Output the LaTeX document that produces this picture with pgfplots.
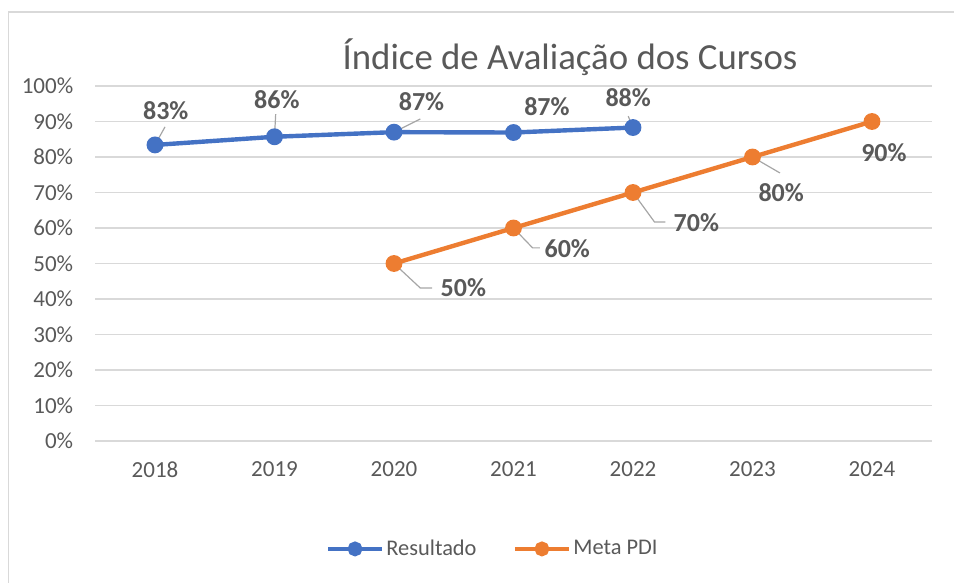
\documentclass[border=0pt]{standalone}
\usepackage{fontspec}
\setmainfont{Carlito}
\usepackage{pgfplots}
\pgfplotsset{compat=1.18}
\definecolor{cblue}{HTML}{4472C4}
\definecolor{corange}{HTML}{ED7D31}
\definecolor{txt}{HTML}{595959}
\definecolor{grd}{HTML}{D9D9D9}
\definecolor{lead}{HTML}{A6A6A6}
\begin{document}
\begin{tikzpicture}
\useasboundingbox (0pt,0pt) rectangle (477pt,-291.5pt);
\draw[grd, line width=0.8pt] (4.25pt,-6pt) rectangle (485pt,-300pt);
\node[txt, font=\fontsize{18.4}{22}\selectfont] at (285pt,-28.5pt) {Índice de Avaliação dos Cursos};
\begin{axis}[
    at={(47.625pt,-220.5pt)}, anchor=south west,
    scale only axis, width=418.25pt, height=177.5pt,
    xmin=-0.5, xmax=6.5, ymin=0, ymax=100,
    xtick={0,1,2,3,4,5,6},
    xticklabels={2018,2019,2020,2021,2022,2023,2024},
    ytick={0,10,...,100},
    yticklabel={\pgfmathprintnumber{\tick}\%},
    /pgf/number format/assume math mode=true,
    tick label style={txt, font=\fontsize{11.5}{14}\selectfont},
    yticklabel style={xshift=-7.5pt},
    xticklabel style={yshift=-7pt},
    axis line style={draw=none},
    major tick length=0pt,
    ymajorgrids, grid style={grd, line width=0.75pt},
    clip=false,
    legend columns=2,
    legend style={at={(0.4755,-0.304)}, anchor=center, draw=none,
      fill=none, text=txt, font=\fontsize{11.2}{14}\selectfont,
      nodes={inner xsep=1.2pt},
      /tikz/every even column/.append style={column sep=17pt}},
    legend image code/.code={
      \draw[#1, line width=2pt] (0pt,0pt) -- (27pt,0pt);
      \draw[#1, only marks, mark size=2.6pt] plot coordinates {(13.5pt,0pt)};
    },
  ]
  \addplot[cblue, line width=2.2pt, mark=*, mark size=3.1pt]
    coordinates {(0,83.4) (1,85.7) (2,87.0) (3,86.9) (4,88.3)};
  \addlegendentry{Resultado}
  \addplot[corange, line width=2.2pt, mark=*, mark size=3.1pt]
    coordinates {(2,50) (3,60) (4,70) (5,80) (6,90)};
  \addlegendentry{Meta PDI}

  % leader lines
  \draw[lead, line width=0.6pt] (axis cs:0,83.4) -- (axis cs:0.084,88.5);
  \draw[lead, line width=0.6pt] (axis cs:1,85.7) -- (axis cs:1.01,92.1);
  \draw[lead, line width=0.6pt] (axis cs:2,87.0) -- (axis cs:2.22,90.7);
  \draw[lead, line width=0.6pt] (axis cs:4,88.3) -- (axis cs:3.96,91.5);
  \draw[lead, line width=0.6pt] (axis cs:2,50) -- (axis cs:2.22,43.1) -- (axis cs:2.32,43.1);
  \draw[lead, line width=0.6pt] (axis cs:3,60) -- (axis cs:3.16,54.4) -- (axis cs:3.22,54.4);
  \draw[lead, line width=0.6pt] (axis cs:4,70) -- (axis cs:4.18,61.7) -- (axis cs:4.27,61.7);
  \draw[lead, line width=0.6pt] (axis cs:5,80) -- (axis cs:5.23,75.5);

  % data labels
  \begin{scope}[every node/.style={txt, font=\fontsize{13}{15}\selectfont\bfseries}]
  \node at (axis cs:0.09,93.2) {83\%};
  \node at (axis cs:1.02,96.3) {86\%};
  \node at (axis cs:2.23,95.5) {87\%};
  \node at (axis cs:3.28,94.1) {87\%};
  \node at (axis cs:3.96,96.6) {88\%};
  \node at (axis cs:2.58,43.1) {50\%};
  \node at (axis cs:3.45,54.1) {60\%};
  \node at (axis cs:4.53,61.4) {70\%};
  \node at (axis cs:5.24,69.9) {80\%};
  \node at (axis cs:6.10,81.1) {90\%};
  \end{scope}
\end{axis}
\end{tikzpicture}
\end{document}
